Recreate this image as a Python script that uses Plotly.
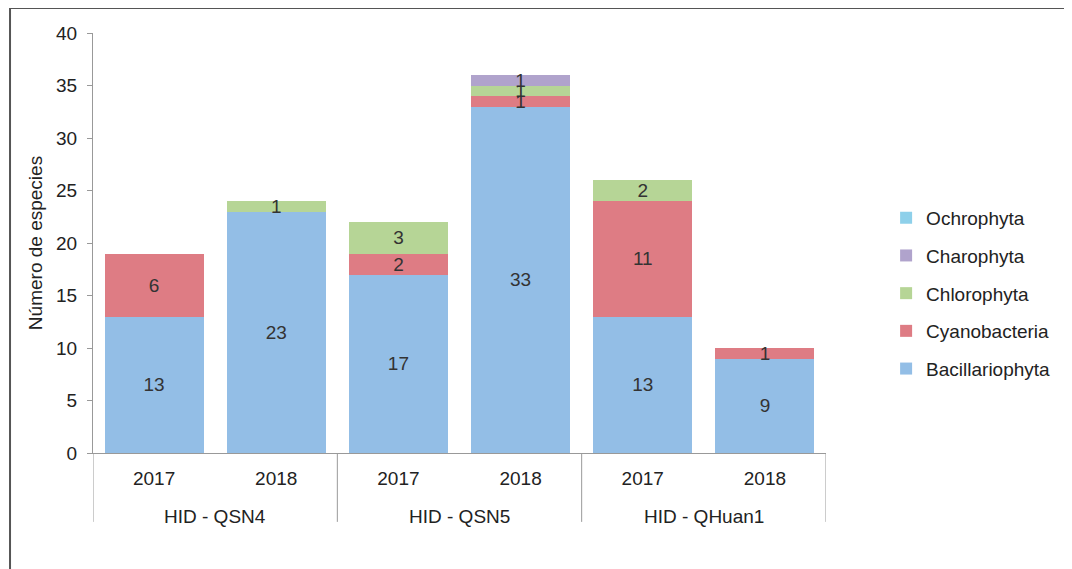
import plotly.graph_objects as go

group_names = ["HID - QSN4", "HID - QSN5", "HID - QHuan1"]
groups = ["HID - QSN4", "HID - QSN4", "HID - QSN5", "HID - QSN5", "HID - QHuan1", "HID - QHuan1"]
years = ["2017", "2018", "2017", "2018", "2017", "2018"]

bacillariophyta = [13, 23, 17, 33, 13, 9]
cyanobacteria = [6, 0, 2, 1, 11, 1]
chlorophyta = [0, 1, 3, 1, 2, 0]
charophyta = [0, 0, 0, 1, 0, 0]
ochrophyta = [0, 0, 0, 0, 0, 0]

series = [
    ("Bacillariophyta", bacillariophyta, "#93BEE6"),
    ("Cyanobacteria", cyanobacteria, "#DE7C84"),
    ("Chlorophyta", chlorophyta, "#B6D596"),
    ("Charophyta", charophyta, "#B0A3CC"),
    ("Ochrophyta", ochrophyta, "#8ED0EA"),
]

cats = [f"{g} {y}" for g, y in zip(groups, years)]
FONT = "Liberation Sans, Arial"

fig = go.Figure()
for i, (name, vals, col) in enumerate(series):
    fig.add_trace(go.Bar(
        x=cats, y=vals, name=name, legendgroup=name,
        legendrank=len(series) - i,
        marker=dict(color=col, line=dict(width=0)),
        text=[str(v) if v else "" for v in vals],
        textposition="inside", insidetextanchor="middle", textangle=0,
        textfont=dict(family=FONT, size=19, color="#333333"),
        constraintext="none",
    ))

# outer frame, group separators and group labels under the axis
shapes = [dict(type="rect", xref="paper", yref="paper",
               x0=-0.1132, x1=1.5, y0=-0.4, y1=1.0595,
               line=dict(color="#555555", width=2), fillcolor="rgba(0,0,0,0)",
               layer="below")]
n_per = 2
for i in range(len(group_names) + 1):
    xb = i * n_per - 0.5
    shapes.append(dict(type="line", xref="x", yref="paper", x0=xb, x1=xb,
                       y0=0, y1=-0.164, line=dict(color="#999999", width=1)))
annotations = []
for i, g in enumerate(group_names):
    annotations.append(dict(x=i * n_per + 0.5, y=-0.152, xref="x", yref="paper",
                            text=g, showarrow=False, yanchor="middle",
                            font=dict(family=FONT, size=19, color="#222222")))

fig.update_layout(
    barmode="stack", bargap=0.19,
    width=1072, height=569,
    margin=dict(l=85, r=254, t=25, b=124),
    paper_bgcolor="white", plot_bgcolor="white",
    font=dict(family=FONT, size=19, color="#222222"),
    uniformtext=dict(minsize=19, mode="show"),
    legend=dict(x=1.082, y=0.605, xanchor="left", yanchor="top",
                traceorder="grouped", tracegroupgap=10,
                font=dict(size=19, color="#222222"), itemwidth=30),
    shapes=shapes,
    annotations=annotations,
)
fig.update_yaxes(range=[0, 40], dtick=5, showgrid=False, showline=True,
                 linecolor="#999999", linewidth=1, ticks="outside", ticklen=5,
                 tickcolor="#999999", tickfont=dict(size=19),
                 ticklabelstandoff=6,
                 title=dict(text="Número de especies", font=dict(size=19), standoff=8),
                 zeroline=False)
fig.update_xaxes(showline=True, linecolor="#999999", linewidth=1,
                 tickvals=cats, ticktext=years, ticks="", tickfont=dict(size=19),
                 ticklabelstandoff=8, range=[-0.5, 5.5])

fig.write_html("out.html")
